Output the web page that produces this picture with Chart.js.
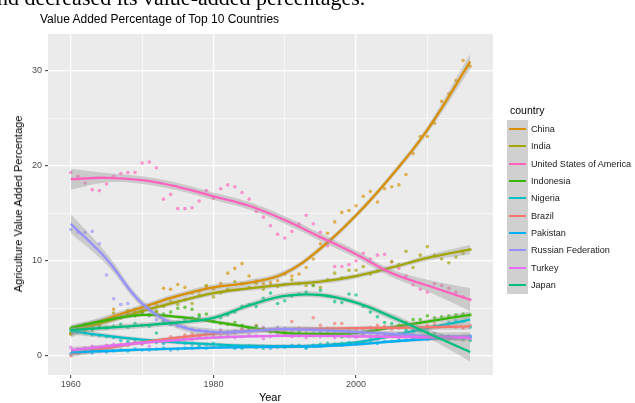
<!DOCTYPE html>
<html><head><meta charset="utf-8">
<script src="https://cdn.jsdelivr.net/npm/chart.js@4.4.1/dist/chart.umd.min.js"></script>
<style>
html,body{margin:0;padding:0;background:#fff;width:635px;height:403px;overflow:hidden;position:relative;font-family:"Liberation Sans",Arial,sans-serif;}
#c{position:absolute;left:0;top:0;z-index:1;}
.t{position:absolute;white-space:nowrap;z-index:2;}
#top{font-family:"Liberation Serif","Times New Roman",serif;font-size:22px;line-height:22px;left:-3px;top:-13px;color:#000;}
#title{font-size:12px;line-height:14px;left:40px;top:12px;color:#000;}
#ytitle{font-size:11px;line-height:12px;left:18px;top:204px;color:#000;transform:translate(-50%,-50%) rotate(-90deg);}
#xtitle{font-size:11px;line-height:12px;left:270px;top:391px;color:#000;transform:translateX(-50%);}
#legend{position:absolute;left:0;top:0;z-index:2;}
.lt{position:absolute;font-size:10.5px;line-height:12px;left:510px;top:104px;color:#000;white-space:nowrap;}
.key{position:absolute;left:507px;width:21px;background:#D0D0D0;}
.kl{position:absolute;left:2px;right:2px;height:2px;}
.lab{position:absolute;left:531px;font-size:9.1px;line-height:10px;color:#1A1A1A;white-space:nowrap;}
</style></head><body>
<canvas id="c" width="635" height="403"></canvas>
<div class="t" id="top">nd decreased its value-added percentages.</div>
<div class="t" id="title">Value Added Percentage of Top 10 Countries</div>
<div class="t" id="ytitle">Agriculture Value Added Percentage</div>
<div class="t" id="xtitle">Year</div>
<div id="legend"></div>
<script>
// ---- data ----
const years = Array.from({length: 57}, (_, i) => 1960 + i);
const fitYears = [1960,1965,1970,1975,1980,1985,1990,1995,2000,2005,2010,2016];
const countries = ["China","India","United States of America","Indonesia","Nigeria","Brazil","Pakistan","Russian Federation","Turkey","Japan"];
const colors = ["#D89000","#A3A500","#FF62BC","#39B600","#00BFC4","#F8766D","#00B0F6","#9590FF","#E76BF3","#00BF7D"];

const chinaPts = [2.3,2.6,2.9,3.0,3.3,3.6,4.9,4.2,4.4,4.6, 4.8,5.0,5.4,7.1,7.0,7.5,7.2,6.6,6.8,7.3, 7.0,7.6,8.7,9.2,9.7,8.4,7.9,7.6,7.7,7.9, 8.6,8.4,8.6,9.3,10.2,11.8,12.9,14.1,15.1,15.3, 15.8,16.8,17.3,16.2,17.6,17.8,18.0,19.1,21.3,23.1, 23.1,24.5,26.8,27.6,29.0,31.1,30.5];
const indiaPts = [2.3,2.5,2.6,2.8,3.2,3.0,4.5,4.0,4.8,4.3, 4.6,4.9,4.7,5.2,5.7,5.4,5.9,5.5,6.4,7.4, 6.2,6.6,7.0,7.8,7.6,7.2,7.6,7.0,7.4,7.3, 7.5,8.0,7.6,7.4,7.4,7.2,8.0,8.7,8.2,9.0, 9.0,9.4,8.6,8.9,9.0,9.9,9.6,11.0,9.3,10.6, 11.5,10.6,10.2,9.8,10.4,10.8,11.2];
const usaPts = [19.3,18.9,18.2,17.5,17.4,18.1,18.9,19.2,19.3,19.3, 20.3,20.4,19.8,16.5,17.0,15.5,15.5,15.6,16.3,17.4, 16.6,17.6,18.0,17.8,17.2,16.5,15.2,14.6,13.7,12.8, 12.4,13.1,13.9,14.8,13.9,13.0,11.6,9.4,9.4,9.6, 10.0,10.8,10.2,10.6,10.7,9.9,9.2,8.4,7.45,7.0, 6.7,7.6,7.4,7.1,6.7,6.2,5.9];
const indonesiaPts = [2.9,3.1,3.3,3.2,3.5,3.6,3.9,4.0,4.4,4.2, 4.5,4.3,4.6,4.4,4.6,5.0,5.1,4.9,4.3,4.4, 3.6,3.4,3.3,3.5,3.2,2.9,3.1,2.7,2.5,2.6, 2.4,2.2,2.5,2.3,2.1,2.3,2.4,2.2,2.0,2.3, 2.4,2.5,2.6,2.8,2.9,3.0,3.2,3.5,3.8,3.8, 4.2,4.0,4.1,4.2,4.3,4.4,4.3];
const nigeriaPts = [2.7,2.5,2.4,2.2,2.1,2.0,1.9,1.6,1.5,1.7, 1.6,1.5,1.4,1.3,1.5,1.4,1.3,1.2,1.1,1.2, 1.3,1.1,1.0,0.9,0.8,1.0,0.9,0.8,1.0,0.9, 1.0,1.0,1.1,0.9,1.1,1.2,1.3,1.2,1.3,1.4, 1.3,1.5,1.7,1.8,2.0,2.1,2.3,2.5,2.7,2.6, 2.9,3.1,3.2,3.5,3.7,3.6,3.0];
const brazilPts = [0.0,0.3,0.5,0.6,0.8,0.9,1.0,1.2,1.1,1.4, 1.3,1.6,1.5,1.7,2.0,1.9,2.2,2.3,2.1,2.4, 2.3,2.6,2.5,2.4,2.8,2.7,3.2,2.9,2.6,2.8, 2.7,3.6,2.9,2.7,4.0,3.2,2.9,3.4,3.4,2.6, 2.8,2.9,3.0,3.2,3.1,2.8,2.9,3.1,3.3,3.0, 3.2,3.4,3.1,3.2,3.0,2.9,3.2];
const pakistanPts = [0.2,0.3,0.4,0.3,0.5,0.4,0.5,0.6,0.5,0.7, 0.6,0.6,0.7,0.8,0.6,0.7,0.8,0.8,0.9,0.8, 0.9,0.9,1.0,0.8,0.9,1.0,0.9,1.0,0.8,1.0, 0.9,1.1,1.0,0.8,1.0,1.0,1.1,1.2,1.1,1.3, 1.2,1.3,1.4,1.3,1.5,1.5,1.6,1.6,1.7,1.8, 1.7,1.9,1.8,1.9,2.0,1.9,2.0];
const russiaPts = [13.3,13.0,13.0,13.1,11.8,8.5,6.0,5.4,5.5,4.9, 4.5,4.2,3.8,3.6,3.3,3.1,3.0,2.8,2.7,2.6, 2.5,2.7,2.5,2.6,2.8,2.9,2.7,3.0,2.8,3.0, 2.9,2.6,2.7,2.8,2.6,2.5,2.7,2.4,2.2,2.5, 2.4,2.3,2.4,2.2,2.3,2.2,2.3,2.1,2.2,2.0, 1.9,2.1,2.0,2.1,1.9,2.0,2.1];
const turkeyPts = [0.9,0.7,0.8,1.0,0.9,1.1,1.2,1.1,1.3,1.4, 1.2,1.0,1.5,1.4,1.7,1.8,1.9,1.7,2.0,1.9, 2.1,2.0,2.2,1.9,2.0,2.2,2.1,1.8,2.0,2.3, 2.2,2.0,2.1,1.9,2.2,2.0,2.1,1.9,2.2,2.0, 1.9,2.1,2.0,1.8,2.1,2.0,1.9,2.0,1.8,1.9, 2.1,1.8,1.9,1.7,2.0,1.9,1.8];
const japanPts = [2.4,2.6,2.8,2.7,3.0,2.9,3.1,3.3,3.0,3.4, 3.2,3.1,2.4,3.6,3.3,3.5,3.8,4.0,4.1,3.8, 3.6,4.0,4.3,4.6,5.2,5.4,5.2,6.05,6.6,5.5, 5.8,6.3,6.5,6.7,7.4,6.9,6.3,5.7,5.6,6.5, 6.4,5.2,4.6,4.1,3.5,3.4,3.0,2.7,2.6,2.8, 2.5,2.3,2.1,1.9,1.8,1.7,1.6];

// smoothed (loess) values at fitYears
const chinaFit = [2.5,3.9,5.1,6.3,7.2,7.7,8.7,11.3,14.8,19.0,23.8,31.0];
const indiaFit = [2.6,3.6,4.7,5.7,6.6,7.1,7.5,7.8,8.4,9.3,10.3,11.2];
const usaFit = [18.6,18.75,18.5,17.8,16.8,15.8,14.3,12.5,10.7,8.7,7.4,5.9];
const indonesiaFit = [2.95,3.75,4.3,4.1,3.6,3.0,2.4,2.3,2.4,3.0,3.6,4.3];
const nigeriaFit = [2.6,2.1,1.7,1.4,1.2,1.05,1.0,1.1,1.4,2.1,2.9,3.8];
const brazilFit = [0.2,0.8,1.4,1.9,2.3,2.6,2.8,2.85,2.9,2.95,3.0,3.1];
const pakistanFit = [0.35,0.5,0.65,0.75,0.85,0.9,0.95,1.0,1.2,1.5,1.75,2.0];
const russiaFit = [13.9,10.2,5.5,3.2,2.5,2.6,2.8,2.7,2.5,2.3,2.1,2.0];
const turkeyFit = [0.6,1.0,1.35,1.65,1.9,2.05,2.1,2.1,2.05,2.0,1.95,1.9];
const japanFit = [2.7,2.95,3.2,3.5,4.0,5.3,6.3,6.4,5.6,4.1,2.4,0.4];

// confidence half-widths at fitYears
const chinaSe = [0.6,0.35,0.3,0.3,0.3,0.3,0.3,0.3,0.3,0.3,0.4,0.8];
const indiaSe = [0.5,0.3,0.25,0.25,0.25,0.25,0.25,0.25,0.25,0.25,0.3,0.5];
const usaSe = [1.1,0.5,0.4,0.4,0.4,0.4,0.4,0.4,0.4,0.4,0.6,1.2];
const indonesiaSe = [0.35,0.25,0.2,0.2,0.2,0.2,0.2,0.2,0.2,0.2,0.25,0.35];
const nigeriaSe = [0.35,0.25,0.2,0.2,0.2,0.2,0.2,0.2,0.2,0.2,0.25,0.35];
const brazilSe = [0.35,0.25,0.2,0.2,0.2,0.2,0.2,0.2,0.2,0.2,0.25,0.35];
const pakistanSe = [0.3,0.2,0.15,0.15,0.15,0.15,0.15,0.15,0.15,0.15,0.2,0.3];
const russiaSe = [1.0,0.6,0.4,0.35,0.35,0.3,0.3,0.3,0.3,0.3,0.35,0.5];
const turkeySe = [0.3,0.2,0.15,0.15,0.15,0.15,0.15,0.15,0.15,0.15,0.2,0.3];
const japanSe = [0.35,0.3,0.3,0.3,0.3,0.3,0.3,0.3,0.3,0.35,0.45,1.0];

const ptsList = [chinaPts,indiaPts,usaPts,indonesiaPts,nigeriaPts,brazilPts,pakistanPts,russiaPts,turkeyPts,japanPts];
const fitList = [chinaFit,indiaFit,usaFit,indonesiaFit,nigeriaFit,brazilFit,pakistanFit,russiaFit,turkeyFit,japanFit];
const seList = [chinaSe,indiaSe,usaSe,indonesiaSe,nigeriaSe,brazilSe,pakistanSe,russiaSe,turkeySe,japanSe];

function hexA(h, a){const r=parseInt(h.slice(1,3),16),g=parseInt(h.slice(3,5),16),b=parseInt(h.slice(5,7),16);return `rgba(${r},${g},${b},${a})`;}

const datasets = [];
// points
countries.forEach((c,k)=>{
  datasets.push({type:'scatter', label:c+' pts', data: years.map((y,i)=>({x:y,y:ptsList[k][i]})),
    backgroundColor: hexA(colors[k],0.65), borderWidth:0, pointRadius:1.8, order:1000});
});
// bands and lines
countries.forEach((c,k)=>{
  const lowIdx = datasets.length;
  datasets.push({type:'line', label:c+' lo', data: fitYears.map((y,i)=>({x:y,y:fitList[k][i]-seList[k][i]})),
    borderWidth:0, borderColor:'rgba(0,0,0,0)', pointRadius:0, tension:0.4, fill:false, order:100-2*k});
  datasets.push({type:'line', label:c+' hi', data: fitYears.map((y,i)=>({x:y,y:fitList[k][i]+seList[k][i]})),
    borderWidth:0, borderColor:'rgba(0,0,0,0)', pointRadius:0, tension:0.4,
    fill:{target:lowIdx}, backgroundColor:'rgba(153,153,153,0.4)', order:100-2*k});
  datasets.push({type:'line', label:c, data: fitYears.map((y,i)=>({x:y,y:fitList[k][i]})),
    borderWidth:2.3, borderColor:colors[k], pointRadius:0, tension:0.4, fill:false, order:99-2*k});
});

const panelBg = {id:'panelBg', beforeDraw(chart){const a=chart.chartArea,ctx=chart.ctx;ctx.save();ctx.fillStyle='#EBEBEB';ctx.fillRect(a.left,a.top,a.right-a.left,a.bottom-a.top);ctx.restore();}};

const tickFont = {family:'"Liberation Sans", Arial, sans-serif', size:9};
new Chart(document.getElementById('c'), {
  type:'scatter',
  data:{datasets},
  options:{
    responsive:false, animation:false, events:[],
    layout:{padding:{left:0,top:34,right:142,bottom:0}},
    plugins:{legend:{display:false}, tooltip:{enabled:false}, title:{display:false}},
    scales:{
      x:{type:'linear', min:1956.8, max:2019.2,
        afterFit(s){s.height=28;},
        ticks:{stepSize:10, includeBounds:false, autoSkip:false, maxRotation:0, padding:1, color:'#4D4D4D', font:tickFont,
          callback:v=> (v%20===0? String(v):'')},
        grid:{color:'#FFFFFF', lineWidth:ctx=> (ctx.tick && ctx.tick.value%20===0 ? 1.3 : 0.6), drawTicks:true, tickLength:3,
          tickColor:ctx=> (ctx.tick && ctx.tick.value%20===0 ? '#333333' : 'rgba(0,0,0,0)'), tickWidth:1},
        border:{display:false}},
      y:{type:'linear', min:-2.03, max:33.9,
        afterFit(s){s.width=48;},
        ticks:{stepSize:5, includeBounds:false, autoSkip:false, padding:3, color:'#4D4D4D', font:tickFont,
          callback:v=> (v%10===0? String(v):'')},
        grid:{color:'#FFFFFF', lineWidth:ctx=> (ctx.tick && ctx.tick.value%10===0 ? 1.3 : 0.6), drawTicks:true, tickLength:3,
          tickColor:ctx=> (ctx.tick && ctx.tick.value%10===0 ? '#333333' : 'rgba(0,0,0,0)'), tickWidth:1},
        border:{display:false}}
    }
  },
  plugins:[panelBg]
});

// legend
const lg = document.getElementById('legend');
const lt = document.createElement('div'); lt.className='lt'; lt.textContent='country'; lg.appendChild(lt);
const step = 17.35, firstC = 129;
countries.forEach((c,k)=>{
  const cy = firstC + step*k;
  const key = document.createElement('div'); key.className='key';
  key.style.top = (cy - step/2) + 'px'; key.style.height = step + 'px';
  const ln = document.createElement('div'); ln.className='kl'; ln.style.background = colors[k]; ln.style.top = (step/2 - 1) + 'px';
  key.appendChild(ln); lg.appendChild(key);
  const lab = document.createElement('div'); lab.className='lab'; lab.textContent = c; lab.style.top = (cy - 5) + 'px';
  lg.appendChild(lab);
});
</script>
</body></html>
